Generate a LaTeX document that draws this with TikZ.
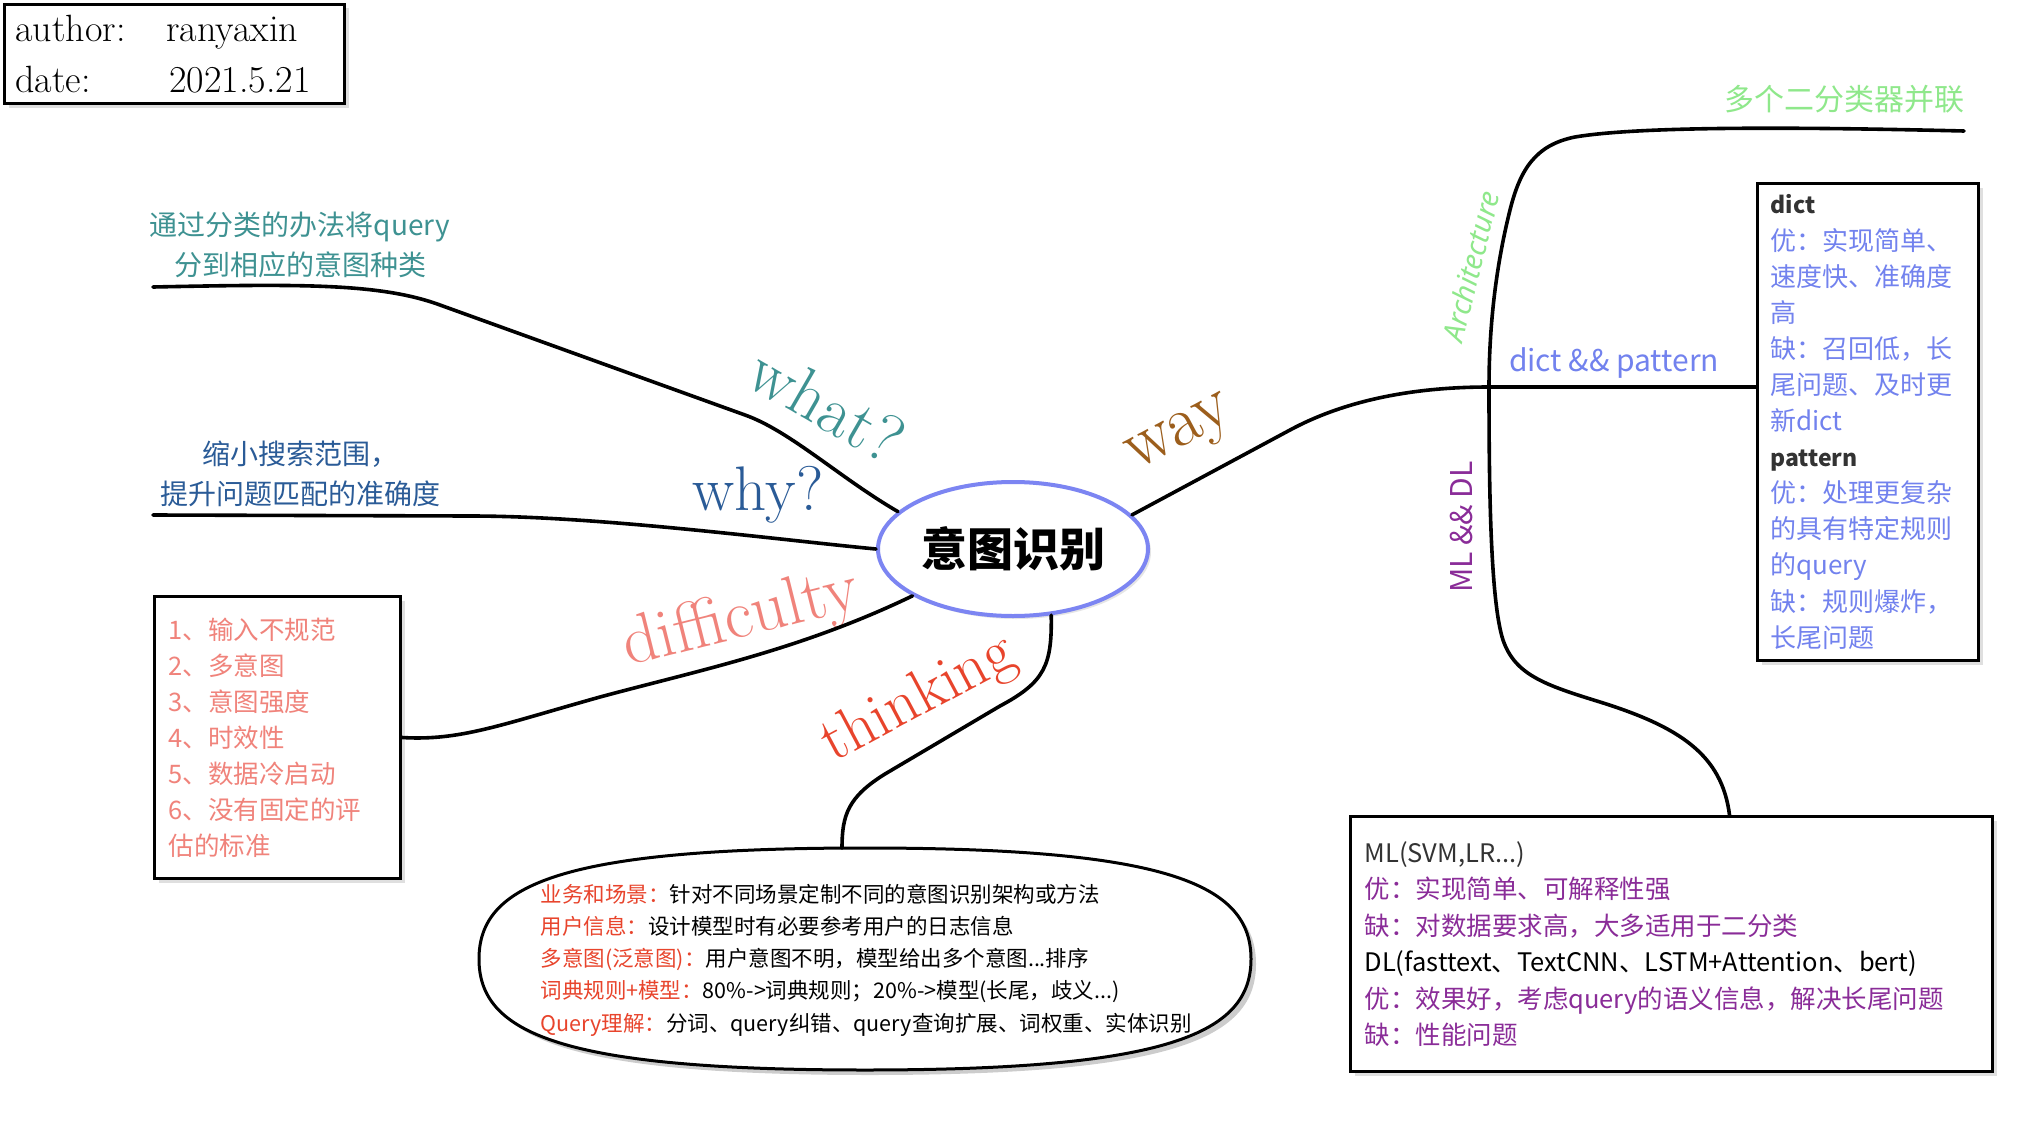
\documentclass[tikz,border=0pt]{standalone}
\usepackage{fontspec}
\newfontfamily\cjk{Noto Sans CJK SC}
\newfontfamily\notosans{Noto Sans}
\usetikzlibrary{shapes.geometric,shadows,calc}

\definecolor{tealtxt}{HTML}{3E9292}
\definecolor{whyblue}{HTML}{2A5B97}
\definecolor{salmon}{HTML}{F0837B}
\definecolor{thinkred}{HTML}{E8442C}
\definecolor{waybrown}{HTML}{9C5E1C}
\definecolor{coreblue}{HTML}{7C85F2}
\definecolor{archgreen}{HTML}{8FE88B}
\definecolor{dictblue}{HTML}{7282EE}
\definecolor{mlpurple}{HTML}{8A2C98}
\definecolor{headgray}{HTML}{333333}

\newcommand\thk[1]{\textcolor{thinkred}{#1}}
\newcommand\hd[1]{{\fontsize{23}{36.1}\selectfont\bfseries\color{headgray}#1}}
% outline of the rounded "thinking" bubble
\newcommand\bubblepath{(865,848) .. controls (1170,848) and (1251,885) .. (1251,959)
  .. controls (1251,1033) and (1170,1070) .. (865,1070) .. controls (560,1070) and (479,1033) .. (479,959)
  .. controls (479,885) and (560,848) .. (865,848) -- cycle}

\begin{document}
\begin{tikzpicture}[x=1pt,y=-1pt,
  branch/.style={line width=3.6pt,line cap=round,line join=round},
  notebox/.style={draw=black,line width=3pt,fill=white,anchor=north west,align=left,inner ysep=0pt,
    drop shadow={shadow xshift=4pt,shadow yshift=-4pt,opacity=0.25}},
  topic/.style={inner sep=0pt,font=\fontsize{64}{66}\selectfont},
  side/.style={inner sep=0pt,font=\cjk\fontsize{30}{32}\selectfont},
  desc/.style={inner sep=0pt,align=center,font=\cjk\fontsize{28}{40}\selectfont},
  ]
\fill[white] (0,0) rectangle (2022,1132);
\useasboundingbox (0,0) rectangle (2022,1132);

% central topic
\node[ellipse,draw=coreblue,line width=4pt,fill=white,minimum width=270pt,minimum height=134pt,inner sep=0pt,
  font=\cjk\bfseries\fontsize{46}{50}\selectfont,
  drop shadow={shadow xshift=3pt,shadow yshift=-3pt,opacity=0.2}] (core) at (1013,549) {意图识别};

% author card
\node[notebox,minimum height=99pt,text width=318pt,inner xsep=11pt,font=\fontsize{38}{51}\selectfont]
  (author) at (3,3) {\makebox[151pt][l]{author:}ranyaxin\\\makebox[154pt][l]{date:}2021.5.21};

% difficulty list
\node[notebox,minimum height=282pt,text width=218pt,inner xsep=14pt,text=salmon,
  font=\cjk\fontsize{25.5}{36}\selectfont] (diffbox) at (153,595)
  {1、输入不规范\\2、多意图\\3、意图强度\\4、时效性\\5、数据冷启动\\6、没有固定的评\\估的标准};

% dict && pattern notes
\node[notebox,minimum height=477pt,text width=195pt,inner xsep=13pt,text=dictblue,
  font=\cjk\fontsize{26}{36.1}\selectfont] (dictbox) at (1756,182)
  {\hd{dict}\\优：实现简单、\\速度快、准确度\\高\\缺：召回低，长\\尾问题、及时更\\新dict\\\hd{pattern}\\优：处理更复杂\\的具有特定规则\\的query\\缺：规则爆炸，\\长尾问题};

% ML && DL notes
\node[notebox,minimum height=255pt,text width=614pt,inner xsep=14pt,text=mlpurple,
  font=\cjk\fontsize{25.5}{36.4}\selectfont] (mlbox) at (1349,815)
  {{\color{headgray}ML(SVM,LR...)}\\优：实现简单、可解释性强\\缺：对数据要求高，大多适用于二分类\\{\color{black}DL(fasttext、TextCNN、LSTM+Attention、bert)}\\优：效果好，考虑query的语义信息，解决长尾问题\\缺：性能问题};

% thinking bubble
\fill[black,opacity=0.2,shift={(5,5)}] \bubblepath;
\draw[line width=3pt,fill=white] \bubblepath;
\node[align=left,inner sep=0pt,font=\cjk\fontsize{21.5}{32.3}\selectfont] (think) at (866,960)
  {\thk{业务和场景：}针对不同场景定制不同的意图识别架构或方法\\
   \thk{用户信息：}设计模型时有必要参考用户的日志信息\\
   \thk{多意图(泛意图)：}用户意图不明，模型给出多个意图...排序\\
   \thk{词典规则+模型：}80\%->词典规则；20\%->模型(长尾，歧义...)\\
   \thk{Query理解：}分词、query纠错、query查询扩展、词权重、实体识别};
\coordinate (thinktop) at (842,848);

% branch labels
\node[topic,text=tealtxt,rotate=-30,font=\fontsize{68}{70}\selectfont] (what) at (827,405) {what?};
\node[topic,text=whyblue,font=\fontsize{63}{65}\selectfont] (why) at (758,495) {why?};
\node[topic,text=salmon,rotate=14,font=\fontsize{69}{71}\selectfont] (difficulty) at (741,620) {difficulty};
\node[topic,text=thinkred,rotate=28,font=\fontsize{63}{65}\selectfont] (thinking) at (919,700) {thinking};
\node[topic,text=waybrown,rotate=28,font=\fontsize{72}{74}\selectfont] (way) at (1182,437) {way};

\node[desc,text=tealtxt] (whatdesc) at (300,245) {通过分类的办法将query\\分到相应的意图种类};
\node[desc,text=whyblue] (whydesc) at (300,474) {缩小搜索范围，\\提升问题匹配的准确度};

\node[inner sep=0pt,font=\notosans\itshape\fontsize{29}{31}\selectfont,text=archgreen,rotate=76] (arch) at (1471,266) {Architecture};
\node[side,text=mlpurple,rotate=90] (mldl) at (1461,527) {ML \&\& DL};
\node[side,text=dictblue] (dictpat) at (1614,363) {dict \&\& pattern};
\node[side,text=archgreen] (parallel) at (1844,99) {多个二分类器并联};

% connectors
\coordinate (whatend) at (153,287);
\coordinate (whyend) at (153,515);
\coordinate (spine) at (1489,387);
\coordinate (archend) at (1964,131);

\draw[branch] (core.162) .. controls (840,478) and (790,431) .. (745,415) -- (440,305)
  .. controls (380,283) and (300,284) .. (whatend);
\draw[branch] (core.180) .. controls (780,540) and (600,516) .. (470,516) -- (whyend);
\draw[branch] (core.205) .. controls (800,650) and (700,670) .. (600,697)
  .. controls (500,725) and (460,741) .. (diffbox.east);
\draw[branch] (core.300) .. controls (1052,665) and (1045,682) .. (1000,706) -- (885,774)
  .. controls (848,797) and (842,815) .. (thinktop);
\draw[branch] (core.16) -- (1290,430) .. controls (1355,395) and (1430,387) .. (spine)
  -- (spine -| dictbox.west);
\draw[branch] (archend) .. controls (1800,127) and (1640,126) .. (1575,137)
  .. controls (1535,145) and (1520,170) .. (1510,210)
  .. controls (1495,270) and (1489,330) .. (spine)
  .. controls (1489,480) and (1490,600) .. (1503,640)
  .. controls (1515,675) and (1545,685) .. (1600,702)
  .. controls (1680,727) and (1722,755) .. ($(mlbox.north)+(58,0)$);
\end{tikzpicture}
\end{document}
